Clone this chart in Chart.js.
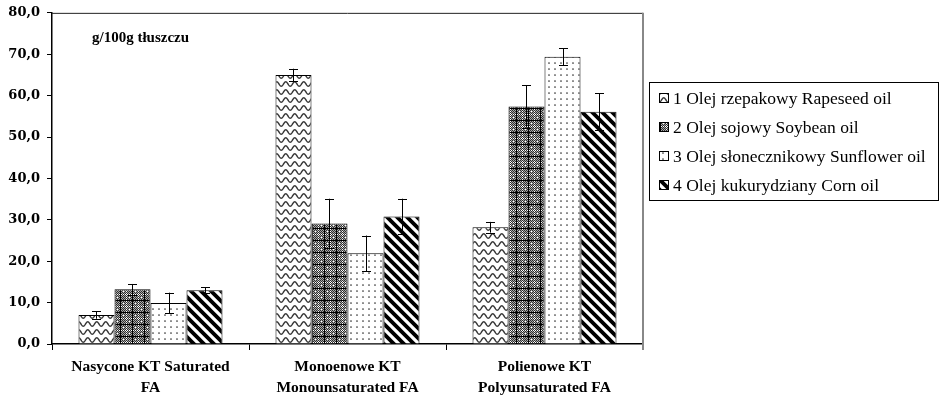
<!DOCTYPE html>
<html>
<head>
<meta charset="utf-8">
<script src="https://cdn.jsdelivr.net/npm/chart.js@4"></script>
<style>
html,body{margin:0;padding:0;background:#fff;}
#wrap{position:relative;width:941px;height:400px;}
</style>
</head>
<body>
<div id="wrap"><canvas id="c" width="941" height="400"></canvas></div>
<script>
// ---- data ----
const categories = [
  ['Nasycone KT Saturated', 'FA'],
  ['Monoenowe KT', 'Monounsaturated FA'],
  ['Polienowe KT', 'Polyunsaturated FA']
];
const seriesNames = [
  '1 Olej rzepakowy Rapeseed oil',
  '2 Olej sojowy Soybean oil',
  '3 Olej słonecznikowy Sunflower oil',
  '4 Olej kukurydziany Corn oil'
];
const rapeseed  = [7.0, 65.0, 28.2];
const soybean   = [13.2, 29.1, 57.4];
const sunflower = [9.9, 21.9, 69.4];
const corn      = [13.0, 30.8, 56.1];
const rapeseedErr  = [0.9, 1.5, 1.3];
const soybeanErr   = [1.3, 6.0, 5.1];
const sunflowerErr = [2.5, 4.3, 2.0];
const cornErr      = [0.7, 4.3, 4.5];
const yTicks = [0, 10, 20, 30, 40, 50, 60, 70, 80];
const unitLabel = 'g/100g tłuszczu';

// ---- patterns ----
const ctxMain = document.getElementById('c').getContext('2d');
function tile(w, h, draw) {
  const c = document.createElement('canvas');
  c.width = w; c.height = h;
  const g = c.getContext('2d');
  g.fillStyle = '#fff'; g.fillRect(0, 0, w, h);
  draw(g, w, h);
  return ctxMain.createPattern(c, 'repeat');
}
const wavePat = tile(9, 8, (g, w, h) => {
  g.strokeStyle = '#333'; g.lineWidth = 1.4;
  g.beginPath();
  for (let x = -1; x <= w + 1; x += 0.25) {
    const y = 4 + 2.2 * Math.sin(2 * Math.PI * x / w);
    if (x === -1) g.moveTo(x, y); else g.lineTo(x, y);
  }
  g.stroke();
});
const gridPat = tile(12, 12, (g, w, h) => {
  for (let y = 0; y < h; y++) for (let x = 0; x < w; x++) {
    g.fillStyle = ((x + y) % 2 === 0) ? '#2e2e2e' : '#a8a8a8';
    g.fillRect(x, y, 1, 1);
  }
  g.fillStyle = '#fff';
  for (let i = 1; i < 12; i += 2) { g.fillRect(6, i, 1, 1); g.fillRect(i, 6, 1, 1); }
  g.fillRect(3, 3, 1, 1); g.fillRect(9, 9, 1, 1);
  g.fillStyle = '#000';
  g.fillRect(0, 0, w, 1); g.fillRect(0, 0, 1, h);
});
const dotPat = tile(6, 6, (g) => {
  g.fillStyle = '#333';
  g.beginPath(); g.arc(3, 3, 0.85, 0, Math.PI * 2); g.fill();
});
const diagPat = tile(10, 10, (g) => {
  g.strokeStyle = '#000'; g.lineWidth = 3.8;
  g.beginPath();
  for (let k = -1; k <= 1; k++) { g.moveTo(-2, -2 + 10 * k); g.lineTo(12, 12 + 10 * k); }
  g.stroke();
});
const patterns = [wavePat, gridPat, dotPat, diagPat];
const values = [rapeseed, soybean, sunflower, corn];
const errors = [rapeseedErr, soybeanErr, sunflowerErr, cornErr];

const SERIF = '"Liberation Serif", "Times New Roman", serif';

// ---- plugins ----
const errorBars = {
  id: 'errorBars',
  afterDatasetsDraw(chart) {
    const { ctx } = chart; const y = chart.scales.y;
    ctx.save();
    ctx.strokeStyle = '#000'; ctx.lineWidth = 1;
    chart.data.datasets.forEach((ds, di) => {
      const meta = chart.getDatasetMeta(di);
      meta.data.forEach((bar, i) => {
        const v = ds.data[i], e = ds.err[i];
        const x = Math.round(bar.x) + 0.5;
        const yt = y.getPixelForValue(v + e), yb = y.getPixelForValue(v - e);
        ctx.beginPath();
        ctx.moveTo(x, yt); ctx.lineTo(x, yb);
        ctx.moveTo(x - 4.5, Math.round(yt) + 0.5); ctx.lineTo(x + 4.5, Math.round(yt) + 0.5);
        ctx.moveTo(x - 4.5, Math.round(yb) + 0.5); ctx.lineTo(x + 4.5, Math.round(yb) + 0.5);
        ctx.stroke();
      });
    });
    ctx.restore();
  }
};
const frameAndLegend = {
  id: 'frameAndLegend',
  afterDraw(chart) {
    const { ctx, chartArea: a } = chart;
    ctx.save();
    ctx.strokeStyle = '#222'; ctx.lineWidth = 1;
    ctx.beginPath(); ctx.moveTo(a.left, a.top + 0.5); ctx.lineTo(a.right, a.top + 0.5); ctx.stroke();
    ctx.strokeStyle = '#888'; ctx.lineWidth = 2;
    ctx.beginPath(); ctx.moveTo(a.right, a.top); ctx.lineTo(a.right, a.bottom + 6); ctx.stroke();
    ctx.fillStyle = '#000';
    ctx.font = 'bold 15px ' + SERIF;
    ctx.textBaseline = 'alphabetic'; ctx.textAlign = 'left';
    ctx.fillText(unitLabel, 92, 42);
    ctx.strokeStyle = '#000'; ctx.lineWidth = 1;
    ctx.strokeRect(649.5, 82.5, 289, 118);
    ctx.font = '17.5px ' + SERIF;
    ctx.textBaseline = 'middle';
    chart.data.datasets.forEach((ds, i) => {
      const cy = 98 + i * 29;
      ctx.fillStyle = ds.backgroundColor;
      ctx.fillRect(659, cy - 5, 10, 10);
      ctx.strokeStyle = '#000'; ctx.lineWidth = 1;
      ctx.strokeRect(659.5, cy - 4.5, 9, 9);
      ctx.fillStyle = '#000';
      ctx.fillText(ds.label, 673, cy + 1);
    });
    ctx.restore();
  }
};

new Chart(ctxMain, {
  type: 'bar',
  data: {
    labels: categories,
    datasets: seriesNames.map((n, i) => ({
      label: n,
      data: values[i],
      err: errors[i],
      backgroundColor: patterns[i],
      borderColor: '#000',
      borderWidth: 1,
      categoryPercentage: 0.731,
      barPercentage: 1.0
    }))
  },
  options: {
    responsive: false,
    animation: false,
    layout: { padding: { left: 5, right: 298, top: 1, bottom: 0 } },
    plugins: { legend: { display: false }, tooltip: { enabled: false } },
    scales: {
      x: {
        grid: { display: true, drawOnChartArea: false, offset: true, tickLength: 6, color: '#000' },
        border: { display: true, color: '#000', width: 1.5 },
        ticks: { color: '#000', padding: 7, maxRotation: 0, autoSkip: false,
          font: { family: SERIF, size: 15.5, weight: 'bold', lineHeight: 1.35 } },
        afterFit(s) { s.height = 56; }
      },
      y: {
        min: 0, max: 80,
        afterBuildTicks(s) { s.ticks = yTicks.map(v => ({ value: v })); },
        grid: { display: true, drawOnChartArea: false, tickLength: 5, color: '#000' },
        border: { display: true, color: '#000', width: 1.5 },
        ticks: { color: '#000', padding: 7,
          font: { family: '"DejaVu Serif", serif', size: 13, weight: 'bold', lineHeight: 0.9 },
          callback: v => v.toFixed(1).replace('.', ',') },
        afterFit(s) { s.width = 47; }
      }
    }
  },
  plugins: [errorBars, frameAndLegend]
});
</script>
</body>
</html>
